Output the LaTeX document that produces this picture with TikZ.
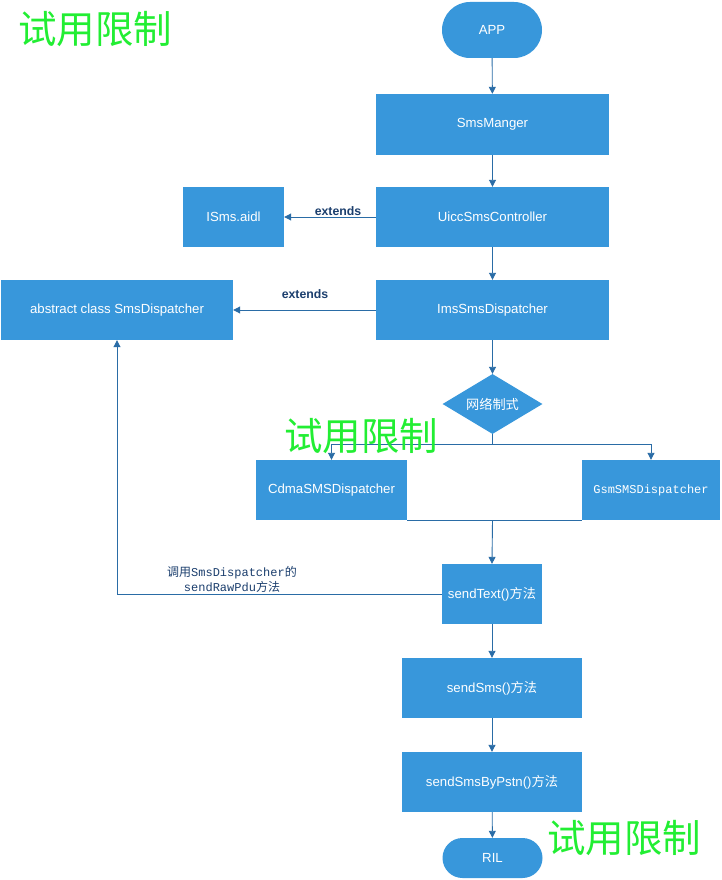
\documentclass[tikz,border=0pt]{standalone}
\usepackage{fontspec}
\setmainfont{Liberation Sans}
\newfontfamily\cjk{Noto Sans CJK SC}
\newfontfamily\monof{Liberation Mono}
\usetikzlibrary{arrows.meta,shapes.geometric}
\definecolor{boxblue}{HTML}{3897DB}
\definecolor{lineblue}{HTML}{2A6CA6}
\definecolor{wmgreen}{HTML}{22EE33}
\definecolor{lblblue}{HTML}{1C3F6E}
\tikzset{
  box/.style={fill=boxblue,draw=none,text=white,font=\fontsize{13.2}{15}\selectfont,inner sep=0pt,align=center},
  term/.style={box,rounded corners=20pt},
  decision/.style={box,diamond,aspect=1.66,minimum width=100pt,minimum height=60pt},
  conn/.style={draw=lineblue,line width=0.9pt},
  arr/.style={conn,-{Triangle[width=7pt,length=7pt]}},
  extlbl/.style={font=\bfseries\fontsize{12.3}{14}\selectfont,text=lblblue},
  callbl/.style={font=\fontsize{12}{15}\selectfont,text=lblblue,align=center},
  watermark/.style={font=\cjk\fontsize{38.5}{42}\selectfont,text=wmgreen,inner sep=0pt}
}
\begin{document}
\begin{tikzpicture}[x=1pt,y=-1pt]
\path[use as bounding box,fill=white] (0,0) rectangle (722,880);

\node[term,minimum width=100pt,minimum height=56pt,rounded corners=28pt] (app) at (492,30) {APP};
\node[box,minimum width=233pt,minimum height=61pt] (mgr) at (492.5,124.5) {SmsManger};
\node[box,minimum width=233pt,minimum height=60pt] (uicc) at (492.5,217) {UiccSmsController};
\node[box,minimum width=101pt,minimum height=60pt] (isms) at (233.5,217) {ISms.aidl};
\node[box,minimum width=233pt,minimum height=60pt] (ims) at (492.5,310) {ImsSmsDispatcher};
\node[box,minimum width=232pt,minimum height=60pt] (abs) at (117,310) {abstract class SmsDispatcher};
\node[decision] (net) at (492.5,404) {{\cjk 网络制式}};
\node[box,minimum width=151pt,minimum height=60pt] (cdma) at (331.5,490) {CdmaSMSDispatcher};
\node[box,minimum width=138pt,minimum height=60pt,font=\monof\fontsize{12}{14}\selectfont] (gsm) at (651,490) {GsmSMSDispatcher};
\node[box,minimum width=100pt,minimum height=60pt] (st) at (492,594) {sendText(){\cjk 方法}};
\node[box,minimum width=180pt,minimum height=60pt] (ss) at (492,688) {sendSms(){\cjk 方法}};
\node[box,minimum width=180pt,minimum height=60pt] (pstn) at (492,782) {sendSmsByPstn(){\cjk 方法}};
\node[term,minimum width=100pt,minimum height=40pt] (ril) at (492.5,858) {RIL};

\coordinate (br) at (492.5,444);
\coordinate (jn) at (492.5,520);

\draw[arr] (app) -- (mgr);
\draw[arr] (mgr) -- (uicc);
\draw[arr] (uicc) -- (isms);
\node[extlbl] (ext1) at (338,211) {extends};
\draw[arr] (uicc) -- (ims);
\draw[arr] (ims) -- (abs);
\node[extlbl] (ext2) at (305,294) {extends};
\draw[arr] (ims) -- (net);
\draw[conn] (net.south) -- (br);
\draw[arr] (br) -| (cdma.north);
\draw[arr] (br) -| (gsm.north);
\draw[conn] (cdma.south east) -- (gsm.south west);
\draw[arr] (jn) -- (st.north);
\draw[arr] (st.west) -| (abs.south);
\node[callbl] (call) at (232,579) {{\cjk 调用}{\monof SmsDispatcher}{\cjk 的}\\{\monof sendRawPdu}{\cjk 方法}};
\draw[arr] (st) -- (ss);
\draw[arr] (ss) -- (pstn);
\draw[arr] (pstn) -- (ril);

\node[watermark] (wm1) at (95,29) {试用限制};
\node[watermark] (wm2) at (361,436) {试用限制};
\node[watermark] (wm3) at (624,838) {试用限制};
\end{tikzpicture}
\end{document}
